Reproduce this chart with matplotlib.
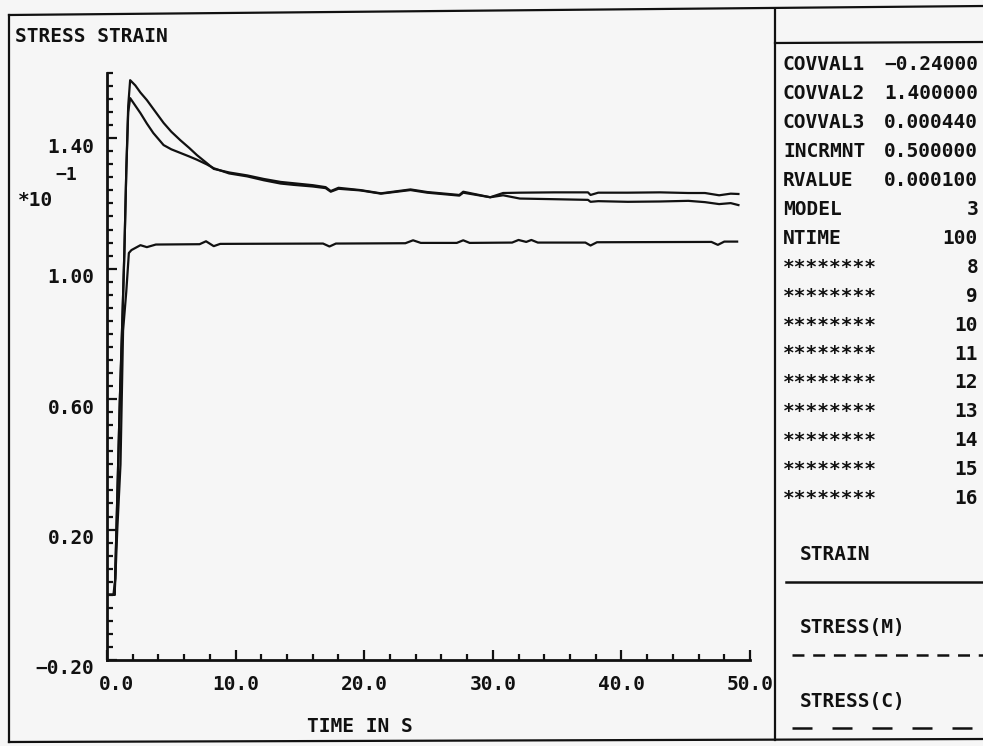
import matplotlib
import matplotlib.pyplot as plt
from matplotlib.ticker import MultipleLocator, FixedLocator
from matplotlib.transforms import ScaledTranslation

matplotlib.use("Agg")

# --- data ---
time_strain = [0.0, 0.5, 0.65, 0.8, 1.05, 1.25, 1.5, 1.7, 1.9, 2.6, 3.1, 3.8,
               7.2, 7.7, 8.3, 8.8, 16.8, 17.3, 17.8, 23.2, 23.8, 24.4, 27.2,
               27.7, 28.2, 31.5, 32.0, 32.6, 33.0, 33.5, 37.2, 37.6, 38.1,
               47.0, 47.5, 48.0, 49.0]
strain = [0.0, 0.0, 0.05, 0.2, 0.40, 0.81, 0.93, 1.048, 1.057, 1.072, 1.066,
          1.074, 1.075, 1.084, 1.069, 1.076, 1.077, 1.068, 1.077, 1.078, 1.087,
          1.079, 1.079, 1.087, 1.079, 1.080, 1.088, 1.082, 1.088, 1.080, 1.080,
          1.071, 1.081, 1.082, 1.073, 1.083, 1.083]

time_stress = [0.0, 0.6, 0.8, 1.0, 1.2, 1.35, 1.5, 1.65, 1.8, 2.2, 2.6, 3.1,
               3.6, 4.4, 5.0, 5.7, 6.4, 7.0, 7.75, 8.3, 9.5, 10.9, 12.2, 13.5,
               14.5, 16.0, 17.0, 17.4, 18.0, 19.7, 21.3, 23.6, 24.9, 27.4,
               27.7, 29.8, 30.8, 32.1, 34.8, 37.4, 37.6, 38.2, 40.5, 43.0,
               45.2, 46.5, 47.6, 48.5, 49.1]
stress_c = [0.0, 0.0, 0.3, 0.6, 0.85, 1.05, 1.3, 1.50, 1.578, 1.562, 1.540,
            1.517, 1.490, 1.447, 1.420, 1.394, 1.370, 1.348, 1.324, 1.306,
            1.295, 1.286, 1.275, 1.266, 1.262, 1.256, 1.250, 1.238, 1.248,
            1.241, 1.231, 1.243, 1.235, 1.226, 1.236, 1.219, 1.232, 1.233,
            1.234, 1.234, 1.226, 1.233, 1.233, 1.234, 1.232, 1.232, 1.225,
            1.230, 1.229]
stress_m = [0.0, 0.0, 0.3, 0.6, 0.85, 1.05, 1.3, 1.48, 1.523, 1.500, 1.477,
            1.445, 1.416, 1.379, 1.366, 1.355, 1.344, 1.334, 1.320, 1.308,
            1.292, 1.283, 1.271, 1.261, 1.257, 1.252, 1.247, 1.236, 1.245,
            1.240, 1.230, 1.241, 1.233, 1.224, 1.233, 1.219, 1.225, 1.215,
            1.213, 1.211, 1.205, 1.207, 1.205, 1.206, 1.208, 1.204, 1.198,
            1.201, 1.195]

param_names = ["COVVAL1", "COVVAL2", "COVVAL3", "INCRMNT", "RVALUE", "MODEL",
               "NTIME"] + ["********"] * 9
param_values = ["−0.24000", "1.400000", "0.000440", "0.500000", "0.000100",
                "3", "100", "8", "9", "10", "11", "12", "13", "14", "15", "16"]

x_ticks = [0, 10, 20, 30, 40, 50]
y_ticks = [-0.2, 0.2, 0.6, 1.0, 1.4]

# --- style ---
ink = "#111111"
paper = "#f6f6f6"
plt.rcParams["font.family"] = "DejaVu Sans Mono"
plt.rcParams["font.weight"] = "bold"
plt.rcParams["font.size"] = 14
plt.rcParams["lines.scale_dashes"] = False

W, H = 983, 746
fig = plt.figure(figsize=(W / 100, H / 100), dpi=100, facecolor=paper)

# overlay in pixel coordinates for frame, panel and free text
ov = fig.add_axes([0, 0, 1, 1], zorder=0)
ov.set_xlim(0, W)
ov.set_ylim(H, 0)
ov.axis("off")

ax = fig.add_axes([107 / W, 1 - 660 / H, (750 - 107) / W, (660 - 73) / H],
                  zorder=1)
ax.set_facecolor("none")

ax.plot(time_strain, strain, color=ink, lw=1.6)
ax.plot(time_stress, stress_m, color=ink, lw=1.6)
ax.plot(time_stress, stress_c, color=ink, lw=1.6)

ax.set_xlim(0, 50)
ax.set_ylim(-0.2, 1.6)
for s in ["top", "right"]:
    ax.spines[s].set_visible(False)
for s in ["left", "bottom"]:
    ax.spines[s].set_linewidth(2.0)
    ax.spines[s].set_color(ink)

ax.xaxis.set_major_locator(FixedLocator(x_ticks))
ax.xaxis.set_minor_locator(MultipleLocator(2))
ax.yaxis.set_major_locator(FixedLocator(y_ticks))
ax.yaxis.set_minor_locator(MultipleLocator(0.04))
ax.set_xticklabels([f"{v:.1f}" for v in x_ticks])
ax.set_yticklabels([f"{v:.2f}".replace("-", "−") for v in y_ticks])
ax.tick_params(which="major", direction="in", length=7, width=1.6, color=ink,
               labelcolor=ink)
ax.tick_params(which="minor", direction="in", length=4, width=1.6, color=ink)
ax.tick_params(axis="x", pad=11)
ax.tick_params(axis="y", pad=9)

down = ScaledTranslation(0, -0.07, fig.dpi_scale_trans)
for lab in ax.get_yticklabels():
    lab.set_transform(lab.get_transform() + down)
first = ax.get_xticklabels()[0]
first.set_transform(first.get_transform() + ScaledTranslation(0.10, 0, fig.dpi_scale_trans))

# outer frame and right panel
frame = dict(color=ink, lw=1.6)
ov.plot([9, W], [15, 6], **frame)
ov.plot([9, 9], [15, 742], **frame)
ov.plot([9, W], [742, 739], **frame)
ov.plot([775, 775], [9, 740], **frame)
ov.plot([775, W], [43, 42], **frame)

ov.text(15, 37, "STRESS STRAIN", ha="left", va="center", color=ink)
ov.text(360, 726, "TIME IN S", ha="center", va="center", color=ink)
ov.text(55, 175, "−1", ha="left", va="center", color=ink, fontsize=13)
ov.text(18, 201, "*10", ha="left", va="center", color=ink)

for k, (name, val) in enumerate(zip(param_names, param_values)):
    y = 65 + 28.9 * k
    ov.text(783, y, name, ha="left", va="center", color=ink)
    ov.text(978, y, val, ha="right", va="center", color=ink)

ov.text(800, 554, "STRAIN", ha="left", va="center", color=ink)
ov.plot([786, W], [582, 582], color=ink, lw=1.8)
ov.text(800, 628, "STRESS(M)", ha="left", va="center", color=ink)
ov.plot([792, W], [655, 655], color=ink, lw=1.8, linestyle=(0, (8.6, 6.3)))
ov.text(800, 702, "STRESS(C)", ha="left", va="center", color=ink)
ov.plot([792, W], [728, 728], color=ink, lw=1.8, linestyle=(0, (14.4, 14.4)))

fig.savefig("out.png", dpi=100, facecolor=paper)
